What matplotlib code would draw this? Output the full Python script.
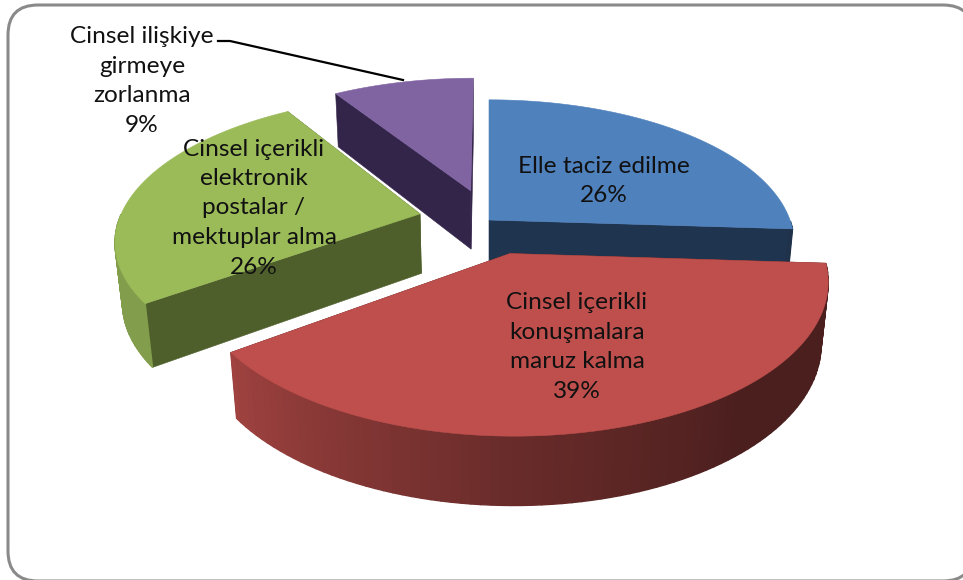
import numpy as np
import matplotlib
matplotlib.use('Agg')
import matplotlib.pyplot as plt
from matplotlib.patches import FancyBboxPatch, Polygon

# dilim verileri (üstten saat yönünde)
labels = ['Elle taciz edilme', 'Cinsel içerikli\nkonuşmalara\nmaruz kalma',
          'Cinsel içerikli\nelektronik\npostalar /\nmektuplar alma',
          'Cinsel ilişkiye\ngirmeye\nzorlanma']
values = [26, 39, 26, 9]
percent_labels = ['26%', '39%', '26%', '9%']

explode = [0.0, 0.24, 0.235, 0.225]
top_colors = ['#4F81BD', '#BE4F4C', '#9BBB59', '#8064A2']
side_colors = ['#1F344E', '#4B1E1D', '#4F5F2C', '#33254A']
label_pos = [(604, 181), (577, 347), (254, 208), (142, 81)]

# perspektif
cx, cy = 489, 220
sx, sy = 301, 140
k = 0.165
depth = 61
kz = 0.02

shade_t = [0, 140, 180, 234, 360]
shade_v = [0.39, 0.39, 0.55, 0.84, 0.84]


def project(x, y, z=0.0):
    w = 1 + k * y + kz * z
    return cx + sx * x / w, cy - sy * y / w + depth * z / w


def darker(color, f):
    r, g, b = matplotlib.colors.to_rgb(color)
    return (r * f, g * f, b * f)


fig = plt.figure(figsize=(9.63, 5.80), dpi=100)
ax = fig.add_axes([0, 0, 1, 1])
ax.set_xlim(0, 963)
ax.set_ylim(580, 0)
ax.axis('off')

# çerçeve resmin dışına taşıyor
ax.add_patch(FancyBboxPatch((8, 5), 965, 576, boxstyle='round,pad=0,rounding_size=30',
                            fc='white', ec='#8A8A8A', lw=2.2, zorder=0))

starts = np.cumsum([0] + values[:-1]) / sum(values) * 360
spans = np.array(values) / sum(values) * 360
# arkadan öne: mor, yeşil, mavi, kırmızı
order = [3, 2, 0, 1]

for n, i in enumerate(order):
    z0 = 1 + n * 3
    a0, a1 = starts[i], starts[i] + spans[i]
    mid = np.radians((a0 + a1) / 2)
    ox, oy = explode[i] * np.sin(mid), explode[i] * np.cos(mid)
    th = np.linspace(a0, a1, 90)
    rx, ry = ox + np.sin(np.radians(th)), oy + np.cos(np.radians(th))

    # kesim yüzleri
    for e in (0, -1):
        qx = np.array([ox, rx[e], rx[e], ox])
        qy = np.array([oy, ry[e], ry[e], oy])
        qz = np.array([0, 0, 1, 1])
        u, v = project(qx, qy, qz)
        ax.add_patch(Polygon(np.c_[u, v], fc=side_colors[i], ec=side_colors[i], lw=0.4, zorder=z0))

    # dış kenar, sadece öne bakan kısım
    for j in np.argsort(ry[:-1])[::-1]:
        t = (th[j] + th[j + 1]) / 2
        if np.cos(np.radians(t)) > 0.0:
            continue
        col = darker(top_colors[i], np.interp(t, shade_t, shade_v))
        qx = [rx[j], rx[j + 1], rx[j + 1], rx[j]]
        qy = [ry[j], ry[j + 1], ry[j + 1], ry[j]]
        qz = [0, 0, 1, 1]
        u, v = project(np.array(qx), np.array(qy), np.array(qz))
        ax.add_patch(Polygon(np.c_[u, v], fc=col, ec=col, lw=1.0, zorder=z0 + 1))

    # üst yüz
    u, v = project(np.r_[ox, rx], np.r_[oy, ry])
    ax.add_patch(Polygon(np.c_[u, v], fc=top_colors[i], ec=top_colors[i], lw=0.4, zorder=z0 + 2))

# Etiket çizgisi
ax.plot([218, 230, 403], [41, 41, 80], color='black', lw=1.6, zorder=30)

for name, pct, pos in zip(labels, percent_labels, label_pos):
    ax.text(pos[0], pos[1], name + '\n' + pct, ha='center', va='center', family='Lato',
            fontsize=17.6, linespacing=1.5, color='#111111', zorder=40)

fig.savefig('out.png', dpi=100)
